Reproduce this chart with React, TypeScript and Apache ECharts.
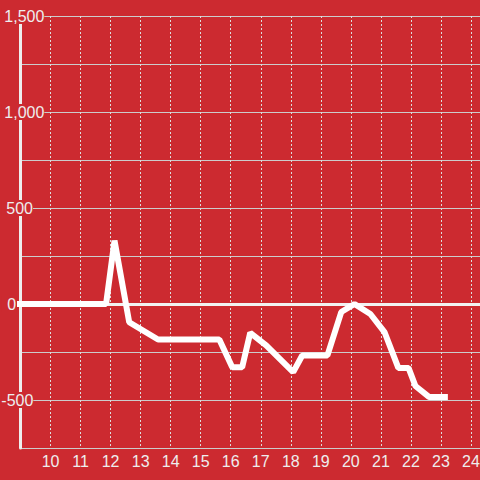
import React, { useEffect, useRef } from "react";
import * as echarts from "echarts";

const BG = "#cc2a30";
const FONT = "'Liberation Sans', Arial, sans-serif";

// hour of day
const times = [8.88, 11.85, 12.13, 12.62, 13.58, 15.62, 16.05, 16.38, 16.65, 17.18, 18.08, 18.38, 19.22, 19.68, 20.12, 20.65, 21.12, 21.58, 21.92, 22.15, 22.6, 23.23];
const values = [0, 0, 330, -95, -185, -185, -330, -330, -150, -215, -355, -268, -268, -42, 0, -52, -146, -333, -333, -427, -484, -484];

const xTickLabels = [10, 11, 12, 13, 14, 15, 16, 17, 18, 19, 20, 21, 22, 23, 24];
const yTickLabels = [-500, 0, 500, 1000, 1500];

export default function App() {
  const ref = useRef<HTMLDivElement>(null);
  useEffect(() => {
    if (!ref.current) return;
    const chart = echarts.init(ref.current, undefined, { renderer: "svg" });
    const base = {
      fontSize: 16,
      fontFamily: FONT,
      color: "#eeeeee",
      backgroundColor: BG,
      lineHeight: 14,
    };
    const yScale = { type: "value", min: -750, max: 1500, interval: 250, position: "left", offset: 0 };
    chart.setOption({
      animation: false,
      backgroundColor: BG,
      grid: { left: 20.5, right: 0, top: 16, bottom: 32, outerBoundsMode: "none", containLabel: false },
      xAxis: {
        type: "value",
        min: 9,
        max: 24.3,
        interval: 1,
        axisLine: { show: true, lineStyle: { color: "#dddddd", width: 2 } },
        axisTick: { show: false },
        axisLabel: {
          color: "#eeeeee",
          fontSize: 16,
          fontFamily: FONT,
          margin: 5,
          showMaxLabel: false,
          formatter: (v: number) => (xTickLabels.includes(v) ? String(v) : ""),
        },
        splitLine: {
          show: true,
          showMinLine: false,
          showMaxLine: false,
          lineStyle: { color: "#dddddd", width: 1, type: [2, 2] },
        },
      },
      yAxis: [
        {
          ...yScale,
          z: 0,
          axisLine: { show: false },
          axisTick: { show: false },
          axisLabel: { show: false },
          splitLine: { show: true, lineStyle: { color: "#cccccc", width: 1 } },
        },
        {
          ...yScale,
          z: 1,
          axisLine: { show: true, onZero: false, lineStyle: { color: "#eeeeee", width: 3 } },
          axisTick: { show: false },
          axisLabel: { show: false },
          splitLine: { show: false },
        },
        {
          ...yScale,
          z: 2,
          axisLine: { show: false },
          axisTick: { show: false },
          splitLine: { show: false },
          axisLabel: {
            align: "left",
            margin: 19.2,
            formatter: (v: number) => {
              if (!yTickLabels.includes(v)) return "";
              const s = v.toLocaleString("en-US");
              const cls = v === 0 ? "z" : v < 0 ? "n" : v >= 1000 ? "k" : "h";
              return `{${cls}|${s}}`;
            },
            rich: {
              z: { ...base, padding: [0, 0, 0, 6] },
              n: { ...base, padding: [0, 0, 0, 0] },
              k: { ...base, padding: [0, 0, 0, 3] },
              h: { ...base, padding: [0, 0, 0, 5] },
            },
          },
        },
      ],
      series: [
        {
          type: "line",
          yAxisIndex: 0,
          data: times.map((t, i) => [t, values[i]]),
          showSymbol: false,
          symbol: "none",
          clip: false,
          z: 5,
          lineStyle: { color: "#ffffff", width: 6 },
          emphasis: { disabled: true },
          markLine: {
            silent: true,
            symbol: ["none", "none"],
            label: { show: false },
            lineStyle: { color: "#f2f2f2", width: 3, type: "solid" },
            data: [{ yAxis: 0 }],
          },
        },
      ],
    });
    return () => chart.dispose();
  }, []);
  return <div ref={ref} style={{ position: "fixed", left: 0, top: 0, width: 480, height: 480 }} />;
}
